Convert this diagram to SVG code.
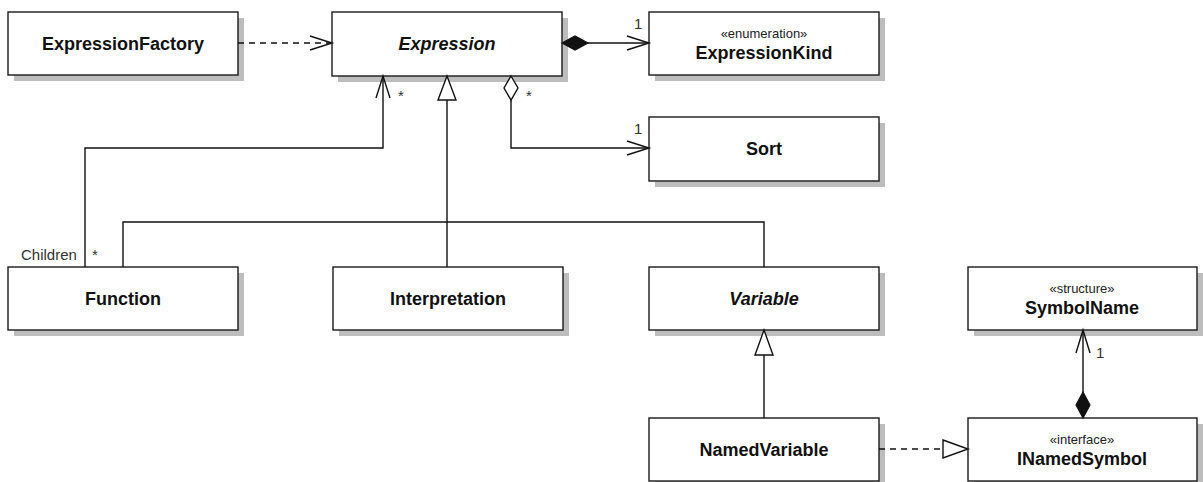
<svg xmlns="http://www.w3.org/2000/svg" width="1203" height="482" viewBox="0 0 1203 482">
  <style>
    .shadow { fill: #bdbdbd; }
    .box { fill: #ffffff; stroke: #1a1a1a; stroke-width: 1.4; }
    .name { font-family: "Liberation Sans", Arial, sans-serif; font-size: 18px; font-weight: bold; fill: #111; text-anchor: middle; }
    .abstract { font-style: italic; }
    .stereo { font-family: "Liberation Sans", Arial, sans-serif; font-size: 13px; fill: #222; text-anchor: middle; }
    .label { font-family: "Liberation Sans", Arial, sans-serif; font-size: 15px; fill: #333; }
    .line { fill: none; stroke: #111; stroke-width: 1.4; }
    .dash { stroke-dasharray: 6 5; }
    .head { fill: none; stroke: #111; stroke-width: 1.4; }
    .hollow { fill: #fff; stroke: #111; stroke-width: 1.4; }
    .solid { fill: #111; stroke: #111; stroke-width: 1.2; }
  </style>

  <!-- class boxes -->
  <g id="ExpressionFactory">
    <rect class="shadow" x="14" y="18" width="230" height="63"/>
    <rect class="box" x="8" y="12" width="230" height="63"/>
    <text class="name" x="123" y="50">ExpressionFactory</text>
  </g>
  <g id="Expression">
    <rect class="shadow" x="338" y="18" width="230" height="64"/>
    <rect class="box" x="332" y="12" width="230" height="64"/>
    <text class="name abstract" x="447" y="50">Expression</text>
  </g>
  <g id="ExpressionKind">
    <rect class="shadow" x="655" y="18" width="230" height="63"/>
    <rect class="box" x="649" y="12" width="230" height="63"/>
    <text class="stereo" x="764" y="38">«enumeration»</text>
    <text class="name" x="764" y="59">ExpressionKind</text>
  </g>
  <g id="Sort">
    <rect class="shadow" x="655" y="123" width="230" height="64"/>
    <rect class="box" x="649" y="117" width="230" height="64"/>
    <text class="name" x="764" y="155">Sort</text>
  </g>
  <g id="Function">
    <rect class="shadow" x="14" y="273" width="230" height="63"/>
    <rect class="box" x="8" y="267" width="230" height="63"/>
    <text class="name" x="123" y="305">Function</text>
  </g>
  <g id="Interpretation">
    <rect class="shadow" x="339" y="273" width="230" height="63"/>
    <rect class="box" x="333" y="267" width="230" height="63"/>
    <text class="name" x="448" y="305">Interpretation</text>
  </g>
  <g id="Variable">
    <rect class="shadow" x="655" y="273" width="230" height="63"/>
    <rect class="box" x="649" y="267" width="230" height="63"/>
    <text class="name abstract" x="764" y="305">Variable</text>
  </g>
  <g id="SymbolName">
    <rect class="shadow" x="974" y="273" width="229" height="63"/>
    <rect class="box" x="968" y="267" width="229" height="63"/>
    <text class="stereo" x="1082" y="293">«structure»</text>
    <text class="name" x="1082" y="314">SymbolName</text>
  </g>
  <g id="NamedVariable">
    <rect class="shadow" x="655" y="424" width="230" height="63"/>
    <rect class="box" x="649" y="418" width="230" height="63"/>
    <text class="name" x="764" y="456">NamedVariable</text>
  </g>
  <g id="INamedSymbol">
    <rect class="shadow" x="974" y="424" width="229" height="63"/>
    <rect class="box" x="968" y="418" width="229" height="63"/>
    <text class="stereo" x="1082" y="444">«interface»</text>
    <text class="name" x="1082" y="465">INamedSymbol</text>
  </g>

  <!-- connectors -->
  <g id="connectors">
    <!-- ExpressionFactory uses Expression -->
    <line class="line dash" x1="238" y1="43" x2="331" y2="43"/>
    <polyline class="head" points="310,36 332,43 310,50"/>

    <!-- Expression composes ExpressionKind -->
    <line class="line" x1="587" y1="43" x2="648" y2="43"/>
    <polygon class="solid" points="562,43 575,36 588,43 575,50"/>
    <polyline class="head" points="627,36 649,43 627,50"/>
    <text class="label" x="634" y="29">1</text>

    <!-- Expression aggregates Sort -->
    <polyline class="line" points="511,100 511,148 648,148"/>
    <polygon class="hollow" points="511,76 518,88 511,100 504,88"/>
    <polyline class="head" points="627,141 649,148 627,155"/>
    <text class="label" x="526" y="101">*</text>
    <text class="label" x="634" y="134">1</text>

    <!-- Function children association -->
    <polyline class="line" points="85,267 85,148 383,148 383,77"/>
    <polyline class="head" points="376,98 383,76 390,98"/>
    <text class="label" x="398" y="101">*</text>
    <text class="label" x="21" y="260">Children</text>
    <text class="label" x="92" y="260">*</text>

    <!-- generalizations to Expression -->
    <polyline class="line" points="123,267 123,222 764,222 764,267"/>
    <line class="line" x1="447" y1="100" x2="447" y2="267"/>
    <polygon class="hollow" points="447,76 456,100 438,100"/>

    <!-- NamedVariable specializes Variable -->
    <line class="line" x1="764" y1="355" x2="764" y2="418"/>
    <polygon class="hollow" points="764,330 773,355 755,355"/>

    <!-- NamedVariable realizes INamedSymbol -->
    <line class="line dash" x1="879" y1="449" x2="943" y2="449"/>
    <polygon class="hollow" points="943,440 968,449 943,458"/>

    <!-- INamedSymbol composes SymbolName -->
    <line class="line" x1="1083" y1="331" x2="1083" y2="393"/>
    <polyline class="head" points="1076,353 1083,330 1090,353"/>
    <polygon class="solid" points="1083,418 1090,405 1083,392 1076,405"/>
    <text class="label" x="1096" y="358">1</text>
  </g>
</svg>
